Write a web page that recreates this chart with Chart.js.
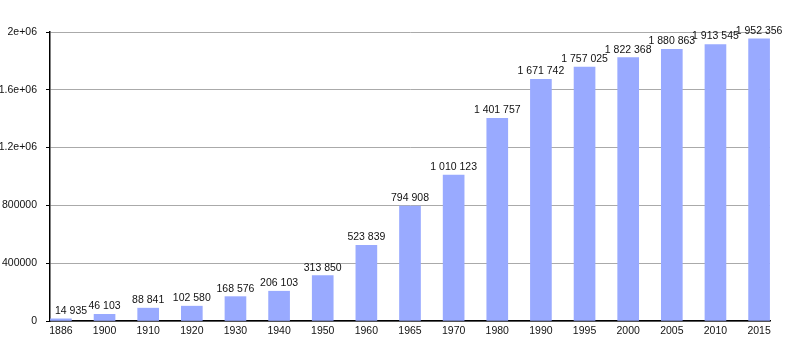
<!DOCTYPE html>
<html>
<head>
<meta charset="utf-8">
<script src="https://cdn.jsdelivr.net/npm/chart.js@4/dist/chart.umd.min.js"></script>
<style>
  html, body { margin: 0; padding: 0; background: #fff; }
  #wrap { width: 800px; height: 350px; }
</style>
</head>
<body>
<div id="wrap"><canvas id="c" width="800" height="350"></canvas></div>
<script>
const years = ['1886','1900','1910','1920','1930','1940','1950','1960','1965','1970','1980','1990','1995','2000','2005','2010','2015'];
const population = [14935, 46103, 88841, 102580, 168576, 206103, 313850, 523839, 794908, 1010123, 1401757, 1671742, 1757025, 1822368, 1880863, 1913545, 1952356];
const yTickValues = [0, 400000, 800000, 1200000, 1600000, 2000000];
const yTickLabels = ['0', '400000', '800000', '1.2e+06', '1.6e+06', '2e+06'];

function fmt(v) {
  return String(v).replace(/\B(?=(\d{3})+(?!\d))/g, ' ');
}

const FONT = '"Liberation Sans", Arial, sans-serif';

const valueLabels = {
  id: 'valueLabels',
  afterDatasetsDraw(chart) {
    const ctx = chart.ctx;
    const meta = chart.getDatasetMeta(0);
    const area = chart.chartArea;
    ctx.save();
    ctx.font = '10.5px ' + FONT;
    ctx.fillStyle = '#111';
    ctx.textAlign = 'center';
    ctx.textBaseline = 'alphabetic';
    meta.data.forEach((el, i) => {
      const txt = fmt(population[i]);
      const w = ctx.measureText(txt).width;
      let x = el.x;
      if (x - w / 2 < area.left + 5) x = area.left + 5 + w / 2;
      ctx.fillText(txt, x, el.y - 5);
    });
    ctx.restore();
  }
};

new Chart(document.getElementById('c'), {
  type: 'bar',
  data: {
    datasets: [{
      data: population.map((v, i) => ({ x: i, y: v })),
      backgroundColor: '#99aaff',
      borderWidth: 0,
      barThickness: 21
    }]
  },
  options: {
    responsive: false,
    animation: false,
    devicePixelRatio: 1,
    layout: { padding: { top: 32, right: 30, left: 0, bottom: 0 } },
    plugins: { legend: { display: false }, tooltip: { enabled: false } },
    scales: {
      x: {
        type: 'linear',
        offset: false,
        min: -0.25,
        max: 16.25,
        afterBuildTicks(scale) { scale.ticks = years.map((_, i) => ({ value: i })); },
        afterFit(scale) { scale.height = 29; },
        grid: { display: false, drawTicks: false },
        border: { color: '#000', width: 1.5 },
        ticks: {
          autoSkip: false,
          maxRotation: 0,
          padding: 4,
          color: '#111',
          font: { family: FONT, size: 10.5 },
          callback: (v) => years[v] !== undefined ? years[v] : ''
        }
      },
      y: {
        min: 0,
        max: 2000000,
        afterFit(scale) { scale.width = 50; },
        afterBuildTicks(scale) {
          const t = [];
          for (let v = 0; v <= 2000000; v += 40000) t.push({ value: v });
          scale.ticks = t;
        },
        grid: {
          color: (c) => (c.tick && yTickValues.includes(c.tick.value)) ? '#aaaaaa' : '#e4e4e4',
          lineWidth: 1,
          drawTicks: true,
          tickLength: 4,
          tickColor: '#000'
        },
        border: { color: '#000', width: 1.5 },
        ticks: {
          autoSkip: false,
          padding: 9,
          color: '#111',
          font: { family: FONT, size: 10.5 },
          callback: (v) => {
            const k = yTickValues.indexOf(v);
            return k >= 0 ? yTickLabels[k] : null;
          }
        }
      }
    }
  },
  plugins: [valueLabels]
});
</script>
</body>
</html>
